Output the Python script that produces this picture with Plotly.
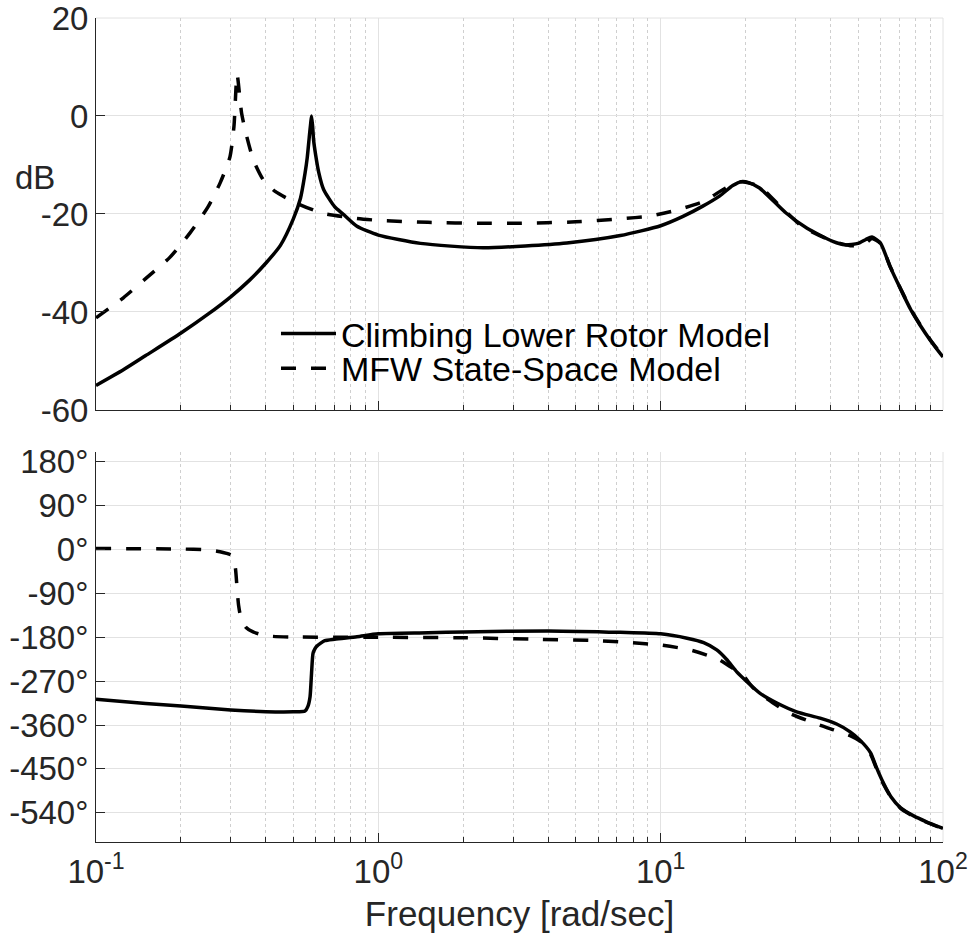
import plotly.graph_objects as go

# ---- Magnitude response (dB) ----
w_mag_climb = [0.1, 0.125, 0.15, 0.2, 0.25, 0.3, 0.35, 0.4, 0.45, 0.5, 0.53, 0.55, 0.56,
               0.57, 0.576, 0.58, 0.585, 0.59, 0.6, 0.615, 0.64, 0.7, 0.75, 0.84, 1.0,
               1.41, 2.35, 4.65, 7.2, 10, 12, 14.1, 16.2, 18, 19.3, 20.5, 22.4, 27.8, 33,
               40.7, 45, 50, 53.3, 56, 60, 65, 71, 77, 83, 90, 100]
mag_climb_db = [-55, -51.8, -48.9, -44.3, -40.4, -36.9, -33.5, -30.0, -26.4, -21.0, -16.8,
                -11.7, -8.5, -4.0, -1.5, 0, -2.0, -5.0, -8.0, -11.5, -15.0, -18.5, -20.0,
                -22.5, -24.3, -26.0, -26.9, -25.9, -24.4, -22.4, -20.5, -18.4, -16.3,
                -14.2, -13.4, -13.6, -14.7, -19.8, -22.9, -25.6, -26.3, -26.0, -25.2,
                -24.7, -25.9, -30.8, -35.5, -39.6, -42.7, -45.7, -49.2]

w_mag_mfw = [0.1, 0.125, 0.152, 0.183, 0.215, 0.249, 0.275, 0.298, 0.308, 0.316, 0.328,
             0.342, 0.361, 0.392, 0.431, 0.514, 0.638, 0.838, 1.0, 1.5, 2.35, 3.1, 5, 7.2,
             9.2, 11.4, 14.1, 17, 19.3, 22.4, 26.6, 31.8, 40, 47.7, 53.3, 56, 60, 65, 71,
             77, 83, 90, 100]
mag_mfw_db = [-41.2, -37.1, -32.9, -28.8, -23.9, -18.6, -13.7, -8.4, -2.2, 8.5, 0.5, -4.2,
              -9.0, -13.1, -15.4, -17.8, -19.9, -20.9, -21.3, -21.7, -21.9, -21.9, -21.6,
              -21.0, -20.4, -19.2, -17.5, -14.7, -13.4, -14.4, -18.5, -22.6, -25.4, -26.5,
              -25.9, -25.0, -26.0, -30.7, -35.4, -39.5, -42.6, -45.6, -49.1]

# ---- Phase response (deg) ----
w_ph_climb = [0.1, 0.15, 0.2, 0.3, 0.4, 0.5, 0.55, 0.563, 0.573, 0.58, 0.587, 0.596, 0.604,
              0.625, 0.646, 0.7, 0.84, 1.0, 1.5, 2.0, 4.0, 7.2, 10, 12.4, 14.2, 15.8, 17.1,
              18.6, 20.2, 22.5, 25.8, 30.3, 36.7, 42, 46.9, 50.8, 55.4, 58, 61.5, 65.4,
              70.8, 79, 87, 100]
ph_climb_deg = [-307, -316, -321, -329, -332.7, -333, -331.5, -322, -302, -254, -213, -204,
                -199, -192, -187, -184, -179, -173, -171, -169, -167, -170, -173, -182,
                -191, -206, -225, -251, -271, -295, -315, -333, -346, -358, -374, -391,
                -417, -446, -479, -507, -530, -547, -558, -572]

w_ph_mfw = [0.1, 0.2, 0.25, 0.275, 0.29, 0.3, 0.306, 0.312, 0.316, 0.32, 0.326, 0.34, 0.36,
            0.4, 0.5, 1.0, 2.0, 3.5, 6, 7.8, 10, 12.7, 16, 17.6, 19.5, 21.2, 23.9, 28.6,
            36.5, 46.9, 52, 55.4, 58, 61.5, 65.4, 70.8, 79, 87, 100]
ph_mfw_deg = [2, 1, -1, -4.5, -8, -11, -15, -40, -80, -115, -140, -160, -169, -177, -179.5,
              -180, -181, -184, -187, -191, -196, -206, -225, -240, -257, -283, -307, -336,
              -360, -382, -397, -420, -448, -481, -508, -531, -548, -559, -573]

# ---- Axis ticks ----
x_major = [0.1, 1, 10, 100]
x_major_text = ["10<sup>-1</sup>", "10<sup>0</sup>", "10<sup>1</sup>", "10<sup>2</sup>"]
x_minor = [m * 10 ** e for e in (-1, 0, 1) for m in range(2, 10)]
mag_ticks = [-60, -40, -20, 0, 20]
mag_ticktext = ["-60", "-40", "-20", "0", "20"]
ph_ticks = [-540, -450, -360, -270, -180, -90, 0, 90, 180]
ph_ticktext = [f"{v}°" for v in ph_ticks]

labels = ["Climbing Lower Rotor Model", "MFW State-Space Model"]

FONT = "Liberation Sans, Arial, Helvetica, sans-serif"
AX = "#262626"
GRID = "#e2e2e2"
MINOR_GRID = "#cfcfcf"
LW = 3.5
DASH = "15px,15px"
SMOOTH = 0.6

fig = go.Figure()
fig.add_trace(go.Scatter(x=w_mag_climb, y=mag_climb_db, mode="lines", name=labels[0],
                         line=dict(color="black", width=LW, shape="spline",
                                   smoothing=SMOOTH),
                         xaxis="x", yaxis="y", legend="legend"))
fig.add_trace(go.Scatter(x=w_mag_mfw, y=mag_mfw_db, mode="lines", name=labels[1],
                         line=dict(color="black", width=LW, dash=DASH, shape="spline",
                                   smoothing=SMOOTH),
                         xaxis="x", yaxis="y", legend="legend2"))
fig.add_trace(go.Scatter(x=w_ph_climb, y=ph_climb_deg, mode="lines", name=labels[0],
                         line=dict(color="black", width=LW, shape="spline",
                                   smoothing=SMOOTH),
                         xaxis="x2", yaxis="y2", showlegend=False))
fig.add_trace(go.Scatter(x=w_ph_mfw, y=ph_mfw_deg, mode="lines", name=labels[1],
                         line=dict(color="black", width=LW, dash=DASH, shape="spline",
                                   smoothing=SMOOTH),
                         xaxis="x2", yaxis="y2", showlegend=False))

common_x = dict(
    type="log", range=[-1, 2], tickvals=x_major, ticks="inside", ticklen=9,
    tickcolor=AX, tickwidth=1, showline=True, linecolor=AX, linewidth=1,
    showgrid=True, gridcolor=GRID, gridwidth=1, zeroline=False, automargin=False,
    minor=dict(tickvals=x_minor, ticks="inside", ticklen=5, tickcolor=AX,
               showgrid=True, gridcolor=MINOR_GRID, griddash="dot", gridwidth=1),
)
common_y = dict(
    ticks="inside", ticklen=9, tickcolor=AX, tickwidth=1, showline=True,
    linecolor=AX, linewidth=1, showgrid=True, gridcolor=GRID, gridwidth=1,
    zeroline=False, automargin=False, ticklabeloverflow="allow",
)

legend_style = dict(bgcolor="rgba(0,0,0,0)", borderwidth=0, xanchor="left",
                    yanchor="middle", itemwidth=55,
                    font=dict(family=FONT, size=34, color="black"))

# grid lines that sit on the plot edges (top 20 dB line, 10^2 line)
edge_grid = dict(type="line", layer="below", line=dict(color=GRID, width=1))
shapes = [
    dict(xref="x domain", yref="y domain", x0=0, x1=1, y0=1, y1=1, **edge_grid),
    dict(xref="x domain", yref="y domain", x0=1, x1=1, y0=0, y1=1, **edge_grid),
    dict(xref="x2 domain", yref="y2 domain", x0=1, x1=1, y0=0, y1=1, **edge_grid),
]

fig.update_layout(
    width=976, height=938,
    margin=dict(l=96, r=33, t=18, b=96, autoexpand=False),
    paper_bgcolor="white", plot_bgcolor="white",
    font=dict(family=FONT, size=33, color=AX),
    xaxis=dict(domain=[0, 1], anchor="y", showticklabels=False, **common_x),
    yaxis=dict(domain=[0.5243, 1], anchor="x", range=[-60, 20], tickvals=mag_ticks,
               ticktext=mag_ticktext, **common_y),
    xaxis2=dict(domain=[0, 1], anchor="y2", ticktext=x_major_text,
                title=dict(text="Frequency [rad/sec]", standoff=12,
                           font=dict(family=FONT, size=35, color=AX)),
                **common_x),
    yaxis2=dict(domain=[0, 0.4733], anchor="x2", range=[-600, 200], tickvals=ph_ticks,
                ticktext=ph_ticktext, **common_y),
    legend=dict(x=0.2125, y=0.6165, **legend_style),
    legend2=dict(x=0.2125, y=0.5745, **legend_style),
    shapes=shapes,
    annotations=[dict(text="dB", x=-0.072, y=0.807, xref="paper", yref="paper",
                      xanchor="center", yanchor="middle", showarrow=False,
                      font=dict(family=FONT, size=33, color=AX))],
)

fig.write_html("out.html")
